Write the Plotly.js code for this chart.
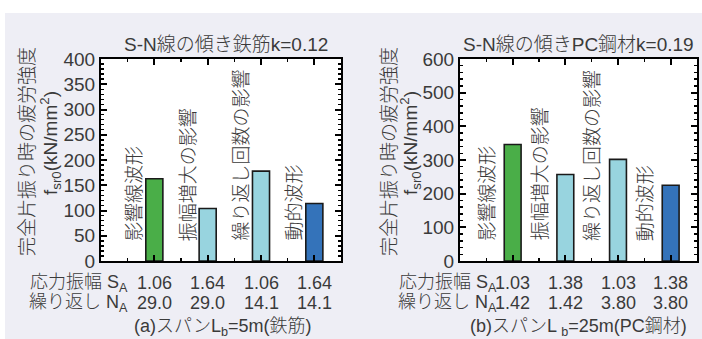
<!DOCTYPE html>
<html>
<head>
<meta charset="utf-8">
<script src="https://cdn.plot.ly/plotly-3.0.1.min.js"></script>
<style>html,body{margin:0;padding:0;background:#fff;}#chart{width:702px;height:339px;}</style>
</head>
<body>
<div id="chart"></div>
<script>
// ---- data ----
const categories = ["影響線波形", "振幅増大の影響", "繰り返し回数の影響", "動的波形"];
const barColors = ["#4AAE48", "#98D4DF", "#98D4DF", "#3473BA"];
const valuesA = [163, 104, 178, 114];   // (a) 鉄筋
const valuesB = [346, 257, 302, 225];   // (b) PC鋼材
const saA = ["1.06", "1.64", "1.06", "1.64"];
const naA = ["29.0", "29.0", "14.1", "14.1"];
const saB = ["1.03", "1.38", "1.03", "1.38"];
const naB = ["1.42", "1.42", "3.80", "3.80"];
const titleA = "S-N線の傾き鉄筋k=0.12";
const titleB = "S-N線の傾きPC鋼材k=0.19";
const captionA = "(a)スパンL<sub>b</sub>=5m(鉄筋)";
const captionB = "(b)スパンL <sub>b</sub>=25m(PC鋼材)";
const yTitle1 = "完全片振り時の疲労強度";
const yTitle2 = "f<sub>sr0</sub>(kN/mm<sup>2</sup>)";
const rowLabelS = "応力振幅 S<sub>A</sub>";
const rowLabelN = "繰り返し N<sub>A</sub>";

// ---- layout helpers ----
const W = 702, H = 339;
const FONT = "Liberation Sans, 'Noto Sans CJK JP', sans-serif";
const TXT = "#3a3a3a";
const WT = 300;
const px = v => v / W;
const py = v => 1 - v / H;
const pos = [1, 2, 3, 4];

const traces = [
  {type: "bar", x: pos, y: valuesA, xaxis: "x", yaxis: "y", width: 0.32,
   marker: {color: barColors, line: {color: "#1a1a1a", width: 1.6}}, hoverinfo: "skip"},
  {type: "bar", x: pos, y: valuesB, xaxis: "x2", yaxis: "y2", width: 0.32,
   marker: {color: barColors, line: {color: "#1a1a1a", width: 1.6}}, hoverinfo: "skip"}
];

function xax(domain, anchor) {
  return {domain: domain, anchor: anchor, range: [0, 4.5], tickmode: "linear", tick0: 0, dtick: 1,
    ticks: "inside", ticklen: 6, tickwidth: 2, tickcolor: "#000", showticklabels: false,
    showline: true, linecolor: "#000", linewidth: 2, mirror: "ticks", showgrid: false, zeroline: false,
    minor: {tick0: 0, dtick: 0.5, ticks: "inside", ticklen: 3, tickwidth: 1.5, tickcolor: "#000", showgrid: false},
    fixedrange: true};
}
function yax(domain, anchor, max, dt, mdt) {
  return {domain: domain, anchor: anchor, range: [0, max], tickmode: "linear", tick0: 0, dtick: dt,
    ticks: "inside", ticklen: 6, tickwidth: 2, tickcolor: "#000",
    tickfont: {family: FONT, size: 19, color: TXT, weight: WT},
    showline: true, linecolor: "#000", linewidth: 2, mirror: "ticks", showgrid: false, zeroline: false,
    minor: {tick0: 0, dtick: mdt, ticks: "inside", ticklen: 3, tickwidth: 1.5, tickcolor: "#000", showgrid: false},
    fixedrange: true};
}

const yDom = [py(261), py(59)];
const annotations = [];
function f(size) { return {family: FONT, size: size, color: TXT, weight: WT}; }
function panel(xa, ya, title, titleX, sa, na, caption, capX, yT1x, yT2x, lblOff, lblY, rowRight) {
  annotations.push({xref: "paper", yref: "paper", x: px(titleX), y: py(45), xanchor: "center", yanchor: "middle",
    text: title, showarrow: false, font: f(19)});
  annotations.push({xref: "paper", yref: "paper", x: px(yT1x), y: py(152), xanchor: "center", yanchor: "middle",
    text: yTitle1, textangle: -90, showarrow: false, font: f(19)});
  annotations.push({xref: "paper", yref: "paper", x: px(yT2x), y: py(143), xanchor: "center", yanchor: "middle",
    text: yTitle2, textangle: -90, showarrow: false, font: f(19)});
  categories.forEach((c, i) => {
    annotations.push({xref: xa, yref: ya, x: pos[i] + lblOff, y: lblY, xanchor: "center", yanchor: "bottom",
      text: c, textangle: -90, showarrow: false, font: f(19)});
    annotations.push({xref: xa, yref: "paper", x: pos[i], y: py(283), xanchor: "center", yanchor: "middle",
      text: sa[i], showarrow: false, font: f(18)});
    annotations.push({xref: xa, yref: "paper", x: pos[i], y: py(303), xanchor: "center", yanchor: "middle",
      text: na[i], showarrow: false, font: f(18)});
  });
  annotations.push({xref: "paper", yref: "paper", x: px(rowRight), y: py(283), xanchor: "right", yanchor: "middle",
    text: rowLabelS, showarrow: false, font: f(18)});
  annotations.push({xref: "paper", yref: "paper", x: px(rowRight), y: py(303), xanchor: "right", yanchor: "middle",
    text: rowLabelN, showarrow: false, font: f(18)});
  annotations.push({xref: "paper", yref: "paper", x: px(capX), y: py(327), xanchor: "center", yanchor: "middle",
    text: caption, showarrow: false, font: f(18)});
}
panel("x", "y", titleA, 226, saA, naA, captionA, 222, 27, 50, -0.37, 36, 130);
panel("x2", "y2", titleB, 578, saB, naB, captionB, 578, 389, 410, -0.48, 54, 499);

const layout = {
  width: W, height: H, autosize: false,
  margin: {l: 0, r: 0, t: 0, b: 0, pad: 0},
  paper_bgcolor: "#EEEEF5", plot_bgcolor: "#FFFFFF",
  showlegend: false, bargap: 0,
  xaxis: xax([px(101), px(341)], "y"),
  yaxis: yax(yDom, "x", 400, 50, 10),
  xaxis2: xax([px(460), px(697)], "y2"),
  yaxis2: yax(yDom, "x2", 600, 100, 20),
  shapes: [
    {type: "rect", xref: "paper", yref: "paper", x0: 0, x1: 1, y0: py(13), y1: 1, fillcolor: "#FFFFFF", line: {width: 0}, layer: "below"},
    {type: "rect", xref: "paper", yref: "paper", x0: 0, x1: px(5), y0: 0, y1: 1, fillcolor: "#FFFFFF", line: {width: 0}, layer: "below"}
  ],
  annotations: annotations
};

Plotly.newPlot("chart", traces, layout, {staticPlot: true, displayModeBar: false});
</script>
</body>
</html>
